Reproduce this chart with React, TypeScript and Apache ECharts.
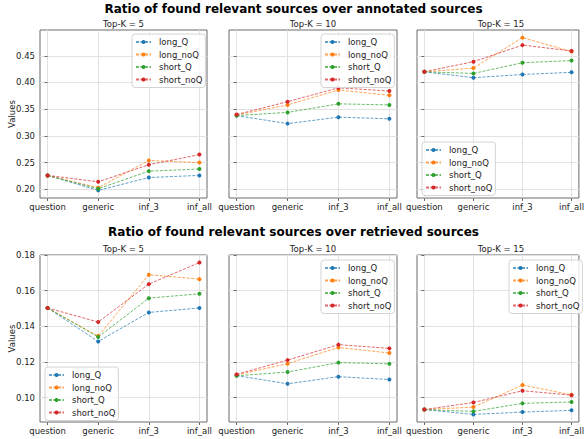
import React, { useEffect, useRef } from 'react';
import * as echarts from 'echarts';

const categories = ['question', 'generic', 'inf_3', 'inf_all'];
const seriesNames = ['long_Q', 'long_noQ', 'short_Q', 'short_noQ'];
const colors = ['#1f77b4', '#ff7f0e', '#2ca02c', '#d62728'];
const panelTitles = ['Top-K = 5', 'Top-K = 10', 'Top-K = 15'];
const rowTitles = [
  'Ratio of found relevant sources over annotated sources',
  'Ratio of found relevant sources over retrieved sources',
];

// Row 1: over annotated sources
const annK5LongQ = [0.226, 0.198, 0.222, 0.226];
const annK5LongNoQ = [0.226, 0.203, 0.254, 0.25];
const annK5ShortQ = [0.226, 0.201, 0.234, 0.238];
const annK5ShortNoQ = [0.226, 0.214, 0.246, 0.265];

const annK10LongQ = [0.338, 0.323, 0.335, 0.332];
const annK10LongNoQ = [0.339, 0.358, 0.386, 0.376];
const annK10ShortQ = [0.338, 0.344, 0.36, 0.358];
const annK10ShortNoQ = [0.34, 0.364, 0.39, 0.384];

const annK15LongQ = [0.42, 0.409, 0.415, 0.419];
const annK15LongNoQ = [0.42, 0.427, 0.484, 0.458];
const annK15ShortQ = [0.42, 0.417, 0.437, 0.441];
const annK15ShortNoQ = [0.42, 0.439, 0.47, 0.459];

// Row 2: over retrieved sources
const retK5LongQ = [0.1503, 0.1315, 0.1478, 0.1503];
const retK5LongNoQ = [0.1503, 0.1345, 0.169, 0.1665];
const retK5ShortQ = [0.1503, 0.134, 0.1558, 0.1583];
const retK5ShortNoQ = [0.1503, 0.1424, 0.1637, 0.1758];

const retK10LongQ = [0.1123, 0.1077, 0.1117, 0.1101];
const retK10LongNoQ = [0.1127, 0.119, 0.1281, 0.125];
const retK10ShortQ = [0.1122, 0.1143, 0.1196, 0.1189];
const retK10ShortNoQ = [0.113, 0.121, 0.1297, 0.1276];

const retK15LongQ = [0.0932, 0.0905, 0.0918, 0.0928];
const retK15LongNoQ = [0.0932, 0.0946, 0.107, 0.1015];
const retK15ShortQ = [0.0932, 0.0922, 0.0967, 0.0975];
const retK15ShortNoQ = [0.0932, 0.0972, 0.1038, 0.1013];

const yTicksRow1 = [0.2, 0.25, 0.3, 0.35, 0.4, 0.45];
const yTicksRow2 = [0.1, 0.12, 0.14, 0.16, 0.18];

const rows = [
  [
    [annK5LongQ, annK5LongNoQ, annK5ShortQ, annK5ShortNoQ],
    [annK10LongQ, annK10LongNoQ, annK10ShortQ, annK10ShortNoQ],
    [annK15LongQ, annK15LongNoQ, annK15ShortQ, annK15ShortNoQ],
  ],
  [
    [retK5LongQ, retK5LongNoQ, retK5ShortQ, retK5ShortNoQ],
    [retK10LongQ, retK10LongNoQ, retK10ShortQ, retK10ShortNoQ],
    [retK15LongQ, retK15LongNoQ, retK15ShortQ, retK15ShortNoQ],
  ],
];
const rowTicks = [yTicksRow1, yTicksRow2];

// layout
const colLeft = [40, 229, 417];
const colWidth = [167, 168, 168];
const rowTop = [30, 255];
const rowHeight = [168, 167];
const rowTitleY = [9, 232];
const panelTitleY = [24, 249];
const legendPos = [
  [[132, 34], [321, 34], [422, 142]],
  [[45, 367], [321, 260], [509, 260]],
];

const FONT = 'DejaVu Sans';
const FRAME = '#6a6a6a';

function buildOption() {
  const grid: any[] = [];
  const xAxis: any[] = [];
  const yAxis: any[] = [];
  const series: any[] = [];
  const legend: any[] = [];
  const graphic: any[] = [];

  rows.forEach((row, r) => {
    const all = row.flat(2);
    const mn = Math.min(...all);
    const mx = Math.max(...all);
    const pad = (mx - mn) * 0.05;
    graphic.push({
      type: 'text',
      x: 293.5,
      y: rowTitleY[r],
      style: {
        text: rowTitles[r],
        font: `bold 12px "${FONT}"`,
        fill: '#000',
        textAlign: 'center',
        textVerticalAlign: 'middle',
      },
    });
    graphic.push({
      type: 'text',
      x: 12,
      y: rowTop[r] + rowHeight[r] / 2,
      rotation: Math.PI / 2,
      style: {
        text: 'Values',
        font: `8.5px "${FONT}"`,
        fill: '#222',
        textAlign: 'center',
        textVerticalAlign: 'middle',
      },
    });
    row.forEach((panel, c) => {
      const idx = r * 3 + c;
      grid.push({
        left: colLeft[c],
        top: rowTop[r],
        width: colWidth[c],
        height: rowHeight[r],
        show: true,
        borderColor: FRAME,
        borderWidth: 1,
        backgroundColor: 'transparent',
      });
      graphic.push({
        type: 'text',
        x: colLeft[c] + colWidth[c] / 2,
        y: panelTitleY[r],
        style: {
          text: panelTitles[c],
          font: `8.5px "${FONT}"`,
          fill: '#222',
          textAlign: 'center',
          textVerticalAlign: 'middle',
        },
      });
      xAxis.push({
        type: 'value',
        gridIndex: idx,
        min: -0.15,
        max: 3.15,
        axisLine: { show: false },
        axisTick: {
          show: true,
          customValues: [0, 1, 2, 3],
          length: 3,
          lineStyle: { color: FRAME },
        },
        axisLabel: {
          customValues: [0, 1, 2, 3],
          formatter: (v: number) => categories[Math.round(v)],
          fontSize: 8.5,
          fontFamily: FONT,
          color: '#222',
          margin: 4,
        },
        splitLine: { show: true, lineStyle: { color: '#e2e2e2', width: 1 } },
      });
      yAxis.push({
        type: 'value',
        gridIndex: idx,
        min: mn - pad,
        max: mx + pad,
        axisLine: { show: false },
        axisTick: {
          show: true,
          customValues: rowTicks[r],
          length: 3,
          lineStyle: { color: FRAME },
        },
        axisLabel: {
          show: c === 0,
          customValues: rowTicks[r],
          formatter: (v: number) => v.toFixed(2),
          fontSize: 8.5,
          fontFamily: FONT,
          color: '#222',
          margin: 5,
        },
        splitLine: { show: true, lineStyle: { color: '#e2e2e2', width: 1 } },
      });
      panel.forEach((vals, s) => {
        series.push({
          type: 'line',
          name: seriesNames[s],
          xAxisIndex: idx,
          yAxisIndex: idx,
          data: vals.map((v, i) => [i, v]),
          symbol: 'circle',
          symbolSize: 4,
          itemStyle: { color: colors[s] },
          lineStyle: { color: colors[s], width: 1, type: [3, 1.5], opacity: 0.7 },
          z: 2,
        });
      });
      legend.push({
        show: true,
        orient: 'vertical',
        left: legendPos[r][c][0],
        top: legendPos[r][c][1],
        data: seriesNames,
        selectedMode: false,
        backgroundColor: 'rgba(255,255,255,0.8)',
        borderColor: '#d4d4d4',
        borderWidth: 1,
        borderRadius: 3,
        padding: [3, 3, 3, 3],
        itemWidth: 15,
        itemHeight: 5,
        itemGap: 2.5,
        textStyle: { fontSize: 8.5, fontFamily: FONT, color: '#222', lineHeight: 10, padding: [0, 0, 0, 3] },
      });
    });
  });

  return {
    animation: false,
    backgroundColor: '#fff',
    grid,
    xAxis,
    yAxis,
    series,
    legend,
    graphic,
  };
}

export default function App() {
  const ref = useRef<HTMLDivElement>(null);
  useEffect(() => {
    document.body.style.margin = '0';
    if (!ref.current) return;
    const chart = echarts.init(ref.current, null, { renderer: 'svg' });
    chart.setOption(buildOption() as any);
    return () => chart.dispose();
  }, []);
  return <div ref={ref} style={{ width: 587, height: 439 }} />;
}
